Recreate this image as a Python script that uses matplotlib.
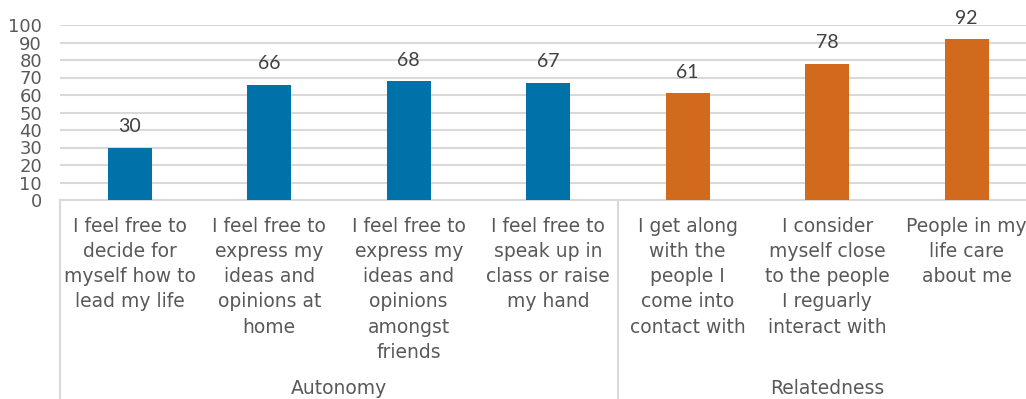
import matplotlib.pyplot as plt
import matplotlib.transforms as mtransforms

# survey statements and % agreeing
categories = [
    "I feel free to\ndecide for\nmyself how to\nlead my life",
    "I feel free to\nexpress my\nideas and\nopinions at\nhome",
    "I feel free to\nexpress my\nideas and\nopinions\namongst\nfriends",
    "I feel free to\nspeak up in\nclass or raise\nmy hand",
    "I get along\nwith the\npeople I\ncome into\ncontact with",
    "I consider\nmyself close\nto the people\nI reguarly\ninteract with",
    "People in my\nlife care\nabout me",
]
values = [30, 66, 68, 67, 61, 78, 92]
groups = ["Autonomy", "Relatedness"]
group_sizes = [4, 3]
group_colors = ["#0072AA", "#D26A1E"]

W, H = 1026, 399
fig = plt.figure(figsize=(W / 100, H / 100), dpi=100)
ax = fig.add_axes([60 / W, 1 - 200 / H, 976.5 / W, 175 / H])

colors = []
for g, n in enumerate(group_sizes):
    colors += [group_colors[g]] * n

x = list(range(len(values)))
bars = ax.bar(x, values, width=0.315, color=colors, zorder=3)
ax.set_xlim(-0.5, len(values) - 0.5)
ax.set_ylim(0, 100)

ax.set_yticks(range(0, 101, 10))
ax.tick_params(axis="y", length=0, pad=13, labelsize=13, labelcolor="#595959")
ax.set_xticks([])
for lbl in ax.get_yticklabels():
    lbl.set_fontfamily("DejaVu Sans")
ax.yaxis.grid(True, color="#d9d9d9", linewidth=1.5, zorder=0)
for s in ["top", "right", "left"]:
    ax.spines[s].set_visible(False)
ax.spines["bottom"].set_color("#d9d9d9")
ax.spines["bottom"].set_linewidth(1.5)

# value labels
for b, v in zip(bars, values):
    ax.annotate(str(v), (b.get_x() + b.get_width() / 2, v), xytext=(0, 9),
                textcoords="offset points", ha="center", va="bottom",
                fontsize=14, color="#404040", family="Lato")

# category and group labels below the axis
trans = mtransforms.blended_transform_factory(ax.transData, ax.transAxes)
for i, c in enumerate(categories):
    ax.text(i, -17 / 175, c, transform=trans, ha="center", va="top",
            fontsize=13.5, color="#595959", family="DejaVu Sans",
            linespacing=1.41)

start = 0
for g, n in zip(groups, group_sizes):
    ax.plot([start - 0.5, start - 0.5], [0, -1.2], transform=trans,
            color="#d9d9d9", linewidth=1.5, clip_on=False)
    ax.text(start + (n - 1) / 2, -189 / 175, g, transform=trans, ha="center",
            va="center", fontsize=13.5, color="#595959", family="DejaVu Sans")
    start += n

fig.savefig("out.png", dpi=100)
